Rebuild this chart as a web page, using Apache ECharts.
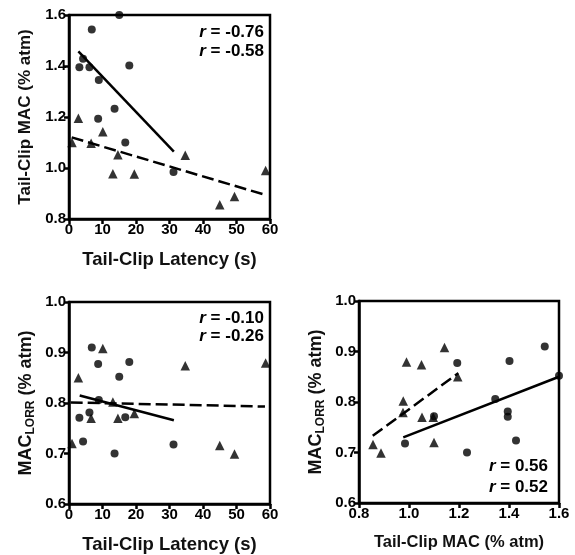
<!DOCTYPE html>
<html>
<head>
<meta charset="utf-8">
<script src="https://cdn.jsdelivr.net/npm/echarts@6/dist/echarts.min.js"></script>
<style>html,body{margin:0;padding:0;background:#fff}#c{width:575px;height:555px}</style>
</head>
<body>
<div id="c"></div>
<script>
// Circle group (per subject)
var circLatency = [15, 6.8, 4.2, 3.1, 6.1, 18, 8.9, 13.6, 8.7, 16.8, 31.2];
var circTailMAC = [1.60, 1.543, 1.428, 1.395, 1.395, 1.402, 1.345, 1.232, 1.193, 1.10, 0.984];
var circLORR    = [0.852, 0.91, 0.724, 0.771, 0.781, 0.881, 0.806, 0.700, 0.877, 0.772, 0.718];
// Triangle group (per subject)
var triLatency = [0.9, 2.8, 6.6, 10.1, 13.1, 14.6, 19.5, 34.7, 45, 49.4, 58.7];
var triTailMAC = [1.10, 1.195, 1.097, 1.142, 0.977, 1.052, 0.976, 1.05, 0.856, 0.888, 0.99];
var triLORR    = [0.72, 0.85, 0.77, 0.908, 0.802, 0.77, 0.779, 0.874, 0.716, 0.699, 0.879];
// Regression line endpoints
var fit1Solid  = [[2.8, 1.457], [31.3, 1.064]];
var fit1Dashed = [[0.8, 1.12], [58.5, 0.895]];
var fit2Solid  = [[3.2, 0.815], [31.3, 0.766]];
var fit2Dashed = [[0.5, 0.801], [58.5, 0.793]];
var fit3Solid  = [[0.977, 0.730], [1.6, 0.85]];
var fit3Dashed = [[0.855, 0.733], [1.197, 0.857]];
// Correlation labels
var rText1 = ['-0.76', '-0.58'];
var rText2 = ['-0.10', '-0.26'];
var rText3 = ['0.56', '0.52'];

function zip(a, b) { return a.map(function (v, i) { return [v, b[i]]; }); }

var FONT = '"Liberation Sans", Arial, sans-serif';
var lw = 2.5;
function axisCommon(extra, nameSize) {
  var o = {
    axisLine: { onZero: false, lineStyle: { color: '#000', width: lw } },
    axisTick: { show: true, inside: false, length: 5, lineStyle: { color: '#000', width: lw } },
    axisLabel: { color: '#000', fontFamily: FONT, fontWeight: 'bold', fontSize: 15, margin: 3 },
    splitLine: { show: false },
    nameLocation: 'middle',
    nameTextStyle: { color: '#111', fontFamily: FONT, fontWeight: 'bold', fontSize: nameSize || 17 }
  };
  for (var k in extra) o[k] = extra[k];
  return o;
}
function fmt1(v) { return v.toFixed(1); }

var grids = [
  { left: 69, top: 15, width: 201, height: 204 },
  { left: 69, top: 302, width: 201, height: 202 },
  { left: 359, top: 301, width: 200, height: 202 }
];
grids.forEach(function (g) { g.show = true; g.borderColor = '#000'; g.borderWidth = lw; g.backgroundColor = 'transparent'; });

var xAxes = [
  axisCommon({ gridIndex: 0, type: 'value', min: 0, max: 60, interval: 10, name: 'Tail-Clip Latency (s)', nameGap: 31 }, 18.5),
  axisCommon({ gridIndex: 1, type: 'value', min: 0, max: 60, interval: 10, name: 'Tail-Clip Latency (s)', nameGap: 31 }, 18.5),
  axisCommon({ gridIndex: 2, type: 'value', min: 0.8, max: 1.6, interval: 0.2, name: 'Tail-Clip MAC (% atm)', nameGap: 31 }, 16.5)
];
xAxes[2].axisLabel.formatter = fmt1;

var lorrName = '{a|MAC}{s|LORR}{a| (% atm)}';
var lorrRich = {
  a: { fontFamily: FONT, fontWeight: 'bold', fontSize: 18, color: '#111', lineHeight: 22 },
  s: { fontFamily: FONT, fontWeight: 'bold', fontSize: 12, color: '#111', lineHeight: 12, verticalAlign: 'bottom' }
};
var yAxes = [
  axisCommon({ gridIndex: 0, type: 'value', min: 0.8, max: 1.6, interval: 0.2, name: 'Tail-Clip MAC (% atm)', nameGap: 35 }, 17),
  axisCommon({ gridIndex: 1, type: 'value', min: 0.6, max: 1.0, interval: 0.1, name: lorrName, nameGap: 32 }, 18),
  axisCommon({ gridIndex: 2, type: 'value', min: 0.6, max: 1.0, interval: 0.1, name: lorrName, nameGap: 32 }, 18)
];
yAxes.forEach(function (a) { a.axisLabel.formatter = fmt1; });
yAxes[1].nameTextStyle.rich = lorrRich;
yAxes[2].nameTextStyle.rich = lorrRich;

function scatter(idx, data, sym, size) {
  return { type: 'scatter', xAxisIndex: idx, yAxisIndex: idx, data: data, symbol: sym, symbolSize: size,
    itemStyle: { color: '#000' }, clip: false, silent: true, z: 3 };
}
function fit(idx, data, dashed) {
  return { type: 'line', xAxisIndex: idx, yAxisIndex: idx, data: data, symbol: 'none', silent: true, z: 2,
    lineStyle: { color: '#000', width: 2.5, type: dashed ? [12, 5] : 'solid' } };
}

var series = [
  scatter(0, zip(circLatency, circTailMAC), 'circle', 8),
  scatter(0, zip(triLatency, triTailMAC), 'triangle', 9.5),
  fit(0, fit1Solid, false), fit(0, fit1Dashed, true),
  scatter(1, zip(circLatency, circLORR), 'circle', 8),
  scatter(1, zip(triLatency, triLORR), 'triangle', 9.5),
  fit(1, fit2Solid, false), fit(1, fit2Dashed, true),
  scatter(2, zip(circTailMAC, circLORR), 'circle', 8),
  scatter(2, zip(triTailMAC, triLORR), 'triangle', 9.5),
  fit(2, fit3Solid, false), fit(2, fit3Dashed, true)
];

var rRich = {
  i: { fontFamily: FONT, fontWeight: 'bold', fontStyle: 'italic', fontSize: 17, color: '#111' },
  n: { fontFamily: FONT, fontWeight: 'bold', fontSize: 17, color: '#111' }
};
function rLabel(val, right, y) {
  return { type: 'text', right: right, top: y,
    style: { text: '{i|r}{n| = ' + val + '}', rich: rRich, textAlign: 'right' } };
}
var graphics = [
  rLabel(rText1[0], 311, 24), rLabel(rText1[1], 311, 43),
  rLabel(rText2[0], 311, 310), rLabel(rText2[1], 311, 328),
  rLabel(rText3[0], 27, 458), rLabel(rText3[1], 27, 479)
];

var chart = echarts.init(document.getElementById('c'), null, { renderer: 'canvas' });
chart.setOption({
  animation: false,
  backgroundColor: '#fff',
  grid: grids,
  xAxis: xAxes,
  yAxis: yAxes,
  series: series,
  graphic: graphics
});
</script>
</body>
</html>
